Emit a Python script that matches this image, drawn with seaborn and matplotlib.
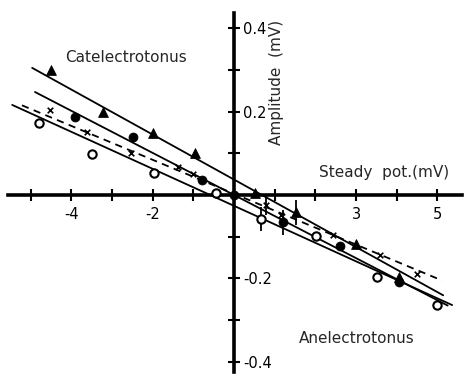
import numpy as np
import pandas as pd
import matplotlib
matplotlib.use("Agg")
import matplotlib.pyplot as plt
import seaborn as sns

sns.set_style("white")
plt.rcParams['font.family'] = ['DejaVu Sans']

# ---- data (mV) ----
tri_x = [-4.5, -3.22, -1.99, -0.96, 0.52, 1.52, 3.0, 4.06]
tri_y = [0.30, 0.20, 0.149, 0.10, 0.005, -0.042, -0.117, -0.197]

fil_x = [-3.91, -2.48, -0.79, 0.0, 1.2, 2.6, 4.06]
fil_y = [0.187, 0.139, 0.036, 0.0, -0.065, -0.122, -0.209]

opn_x = [-4.79, -3.49, -1.97, -0.44, 0.66, 2.01, 3.51, 4.99]
opn_y = [0.172, 0.098, 0.052, 0.004, -0.058, -0.098, -0.197, -0.264]

crs_x = [-4.52, -3.61, -2.53, -1.37, -1.0, 0.79, 1.15, 2.44, 3.59, 4.49]
crs_y = [0.205, 0.152, 0.10, 0.067, 0.05, -0.025, -0.048, -0.096, -0.144, -0.19]

# error bars (x, y, half-length)
err_x = [0.66, 0.79, 1.2, 1.52]
err_y = [-0.058, -0.025, -0.065, -0.042]
err_h = [0.028, 0.022, 0.03, 0.03]

# regression lines: start x, end x, intercept, slope
line_names = ["tri", "fil", "opn", "crs"]
line_x0 = [-4.96, -4.89, -5.45, -5.21]
line_x1 = [5.14, 5.25, 5.36, 5.11]
line_b = [0.037, 0.0, -0.026, 0.003]
line_m = [-0.054, -0.0505, -0.0444, -0.0407]
line_dash = [False, False, False, True]

x_ticks = [-5, -4, -3, -2, -1, 1, 2, 3, 4, 5]
x_ticklabels = ["", "-4", "", "-2", "", "", "", "3", "", "5"]
y_ticks = [-0.4, -0.3, -0.2, -0.1, 0.1, 0.2, 0.3, 0.4]
y_ticklabels = ["-0.4", "", "-0.2", "", "", "0.2", "", "0.4"]

# ---- figure ----
fig = plt.figure(figsize=(4.65, 3.74), dpi=100)
ax = fig.add_axes([0, 0, 1, 1])

for n, x0, x1, b, m, d in zip(line_names, line_x0, line_x1, line_b, line_m, line_dash):
    xs = np.array([x0, x1])
    sns.lineplot(x=xs, y=b + m * xs, ax=ax, color="black", lw=1.3,
                 linestyle=(0, (4, 3)) if d else "-", estimator=None, sort=False)

ax.errorbar(err_x, err_y, yerr=err_h, fmt="none", ecolor="black", elinewidth=1.3, capsize=0)

sns.scatterplot(x=tri_x, y=tri_y, ax=ax, marker="^", s=50, color="black", edgecolor="black", zorder=5)
sns.scatterplot(x=fil_x, y=fil_y, ax=ax, marker="o", s=42, color="black", edgecolor="black", zorder=5)
sns.scatterplot(x=opn_x, y=opn_y, ax=ax, marker="o", s=36, facecolor="white", edgecolor="black",
                linewidth=1.5, zorder=5)
sns.scatterplot(x=crs_x, y=crs_y, ax=ax, marker="x", s=16, color="black", linewidth=1.2, zorder=5)

ax.set_xlim(-5.75, 5.676)
ax.set_ylim(-0.4293, 0.4676)

for s in ["top", "left"]:
    ax.spines[s].set_visible(False)
ax.spines["bottom"].set_position(("data", 0))
ax.spines["right"].set_position(("data", 0))
ax.spines["bottom"].set_bounds(-5.55, 5.6)
ax.spines["right"].set_bounds(-0.424, 0.436)
for s in ["bottom", "right"]:
    ax.spines[s].set_linewidth(2.6)
    ax.spines[s].set_color("black")

ax.yaxis.set_ticks_position("right")
ax.xaxis.set_ticks_position("bottom")
ax.set_xticks(x_ticks)
ax.set_xticklabels(x_ticklabels)
ax.set_yticks(y_ticks)
ax.set_yticklabels(y_ticklabels)
ax.tick_params(axis="both", direction="inout", length=9, width=1.5, labelsize=10.5, colors="black")
ax.tick_params(axis="x", pad=4)
ax.tick_params(axis="y", pad=2)
ax.set_xlabel("")
ax.set_ylabel("")

ax.text(-2.65, 0.329, "Catelectrotonus", fontsize=11, ha="center", va="center")
ax.text(3.02, -0.343, "Anelectrotonus", fontsize=11, ha="center", va="center")
ax.text(3.69, 0.055, "Steady  pot.(mV)", fontsize=11, ha="center", va="center")
ax.text(1.05, 0.27, "Amplitude  (mV)", fontsize=11, ha="center", va="center", rotation=90)

fig.savefig("out.png", dpi=100)
